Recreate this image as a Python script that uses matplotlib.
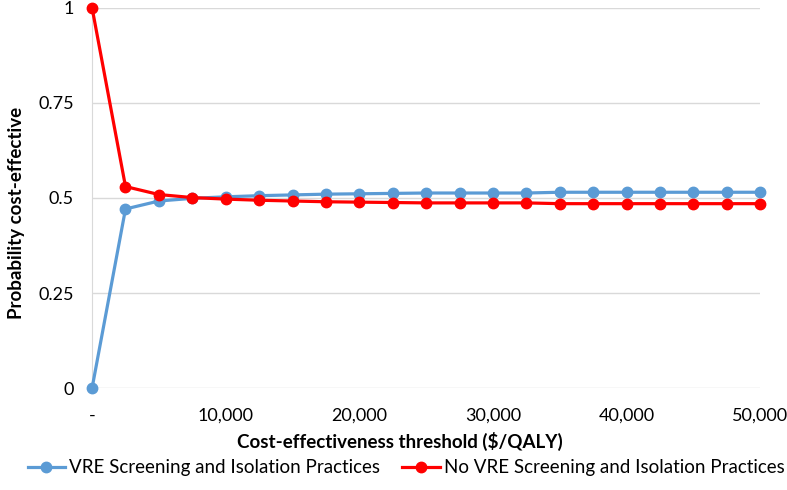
import matplotlib.pyplot as plt
import numpy as np

thresholds = [0, 2500, 5000, 7500, 10000, 12500, 15000, 17500, 20000, 22500, 25000,
              27500, 30000, 32500, 35000, 37500, 40000, 42500, 45000, 47500, 50000]
screening = [0, 0.471, 0.492, 0.499, 0.503, 0.506, 0.508, 0.510, 0.511, 0.512, 0.513,
             0.513, 0.513, 0.513, 0.515, 0.515, 0.515, 0.515, 0.515, 0.515, 0.515]
no_screening = [1, 0.530, 0.509, 0.501, 0.497, 0.494, 0.492, 0.490, 0.489, 0.488, 0.487,
                0.487, 0.487, 0.487, 0.485, 0.485, 0.485, 0.485, 0.485, 0.485, 0.485]
xticks = [0, 10000, 20000, 30000, 40000, 50000]
xtick_labels = ['-', '10,000', '20,000', '30,000', '40,000', '50,000']
yticks = [0, 0.25, 0.5, 0.75, 1]
ytick_labels = ['0', '0.25', '0.5', '0.75', '1']

plt.rcParams['font.family'] = ['Lato', 'DejaVu Sans']

fig = plt.figure(figsize=(7.87, 4.9), dpi=100)
ax = fig.add_axes([0.117, 0.208, 0.849, 0.776])

ax.plot(thresholds, screening, color='#5b9bd5', lw=2.3, marker='o', ms=7.5,
        label='VRE Screening and Isolation Practices', clip_on=False, zorder=3)
ax.plot(thresholds, no_screening, color='#ff0000', lw=2.3, marker='o', ms=7.5,
        label='No VRE Screening and Isolation Practices', clip_on=False, zorder=4)

ax.set_xlim(0, 50000)
ax.set_ylim(0, 1)
ax.set_xticks(xticks)
ax.set_xticklabels(xtick_labels)
ax.set_yticks(yticks)
ax.set_yticklabels(ytick_labels)
ax.tick_params(length=0, labelsize=13, colors='#000000')
ax.tick_params(axis='x', pad=14)
ax.tick_params(axis='y', pad=13)
ax.grid(axis='y', color='#d9d9d9', lw=1)
ax.set_axisbelow(True)
for s in ['top', 'right', 'bottom']:
    ax.spines[s].set_visible(False)
ax.spines['left'].set_color('#d9d9d9')

ax.set_xlabel('Cost-effectiveness threshold ($/QALY)', fontsize=13.5, fontweight='bold')
ax.set_ylabel('Probability cost-effective', fontsize=13.5, fontweight='bold')
ax.xaxis.set_label_coords(0.46, -0.115)
ax.yaxis.set_label_coords(-0.1, 0.46)

ax.legend(loc='center', bbox_to_anchor=(0.47, -0.21), ncol=2, frameon=False,
          fontsize=13.5, handlelength=2.0, handletextpad=0.2, columnspacing=1.2)

plt.savefig('out.png', dpi=100)
